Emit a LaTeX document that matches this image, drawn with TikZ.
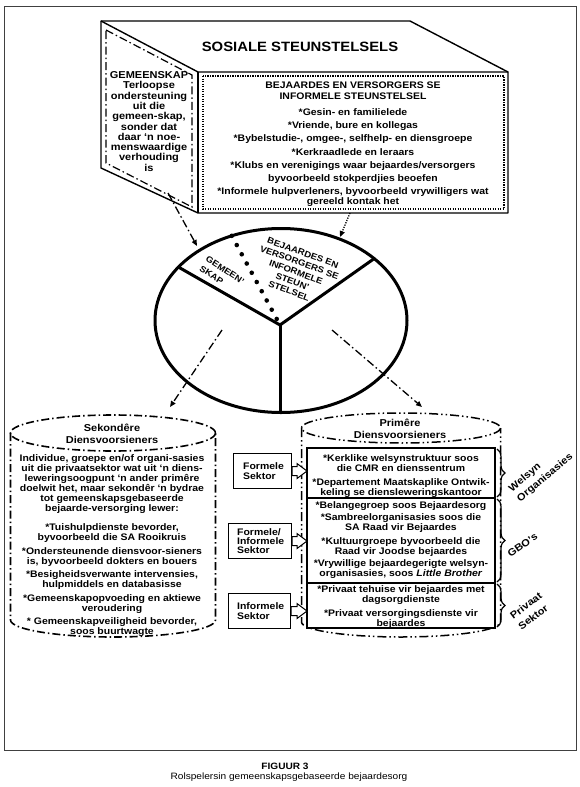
\documentclass[tikz,border=0pt]{standalone}
\usepackage{fontspec}
\setmainfont{Liberation Sans}[FakeStretch=1.1]
\usetikzlibrary{arrows.meta,decorations.pathreplacing,calc}
\newcommand{\fz}[2]{\fontsize{#1}{#2}\selectfont\bfseries\lineskiplimit=-20pt\relax}
\begin{document}
\begin{tikzpicture}[x=1pt,y=-1pt,
  outline/.style={line width=1.4pt, line join=round},
  dashdot/.style={line width=1.4pt, dash pattern=on 8pt off 3pt on 1.5pt off 3pt},
  dashdotdot/.style={line width=1.5pt, dash pattern=on 9pt off 3pt on 1.5pt off 3pt on 1.5pt off 3pt},
  dotline/.style={line width=1.3pt, dash pattern=on 1.2pt off 1.3pt},
  piestroke/.style={line width=3pt, line cap=round},
  bigdots/.style={line width=4.6pt, line cap=round, dash pattern=on 0pt off 10.5pt},
  arr/.style={-{Triangle[length=6pt,width=5pt]}},
  txt/.style={inner sep=0pt, align=center},
  smallbox/.style={draw, line width=1.1pt, minimum height=35pt, anchor=north west, inner sep=0pt},
  hollow/.style={line width=1pt, fill=white, line join=miter},
  bracestyle/.style={decorate, decoration={brace, amplitude=8pt}, line width=1.2pt}
]
\useasboundingbox (0,0) rectangle (580,787);
% outer frame
\draw[black!75, line width=0.8pt] (4.5,6.5) rectangle (576,750);

% ---------- 3D box ----------
\path (101,21) coordinate (bTL) (410,21) coordinate (bTR) (198,72) coordinate (fTL)
      (508,72) coordinate (fTR) (508,213) coordinate (fBR) (198,213) coordinate (fBL)
      (101,168) coordinate (bBL);
\draw[outline] (bTL) -- (bTR) -- (fTR) -- (fBR) -- (fBL) -- (bBL) -- cycle;
\draw[outline] (bTL) -- (fTL) -- (fTR);
\draw[outline] (fTL) -- (fBL);
\draw[dashdot, line width=1.2pt] (106,30) -- (192,75) -- (192,207) -- (106,163) -- cycle;
\draw[dotline] (203,76) rectangle (504,209);

\node[txt, font=\fz{13.5}{16}] (title) at (300,47) {SOSIALE STEUNSTELSELS};
\node[txt, font=\fz{9.5}{13.2}, anchor=north] (informal) at (353,81.6)
 {BEJAARDES EN VERSORGERS SE\\[-2.2pt]
  INFORMELE STEUNSTELSEL\\[2.8pt]
  *Gesin- en familielede\\
  *Vriende, bure en kollegas\\
  *Bybelstudie-, omgee-, selfhelp- en diensgroepe\\
  *Kerkraadlede en leraars\\
  *Klubs en verenigings waar bejaardes/versorgers\\
  byvoorbeeld stokperdjies beoefen\\
  *Informele hulpverleners, byvoorbeeld vrywilligers wat\\[-3.7pt]
  gereeld kontak het};
\node[txt, font=\fz{10}{10.3}, anchor=north] (gemeenskap) at (149,71.4)
 {GEMEENSKAP\\Terloopse\\ondersteuning\\uit die\\gemeen-skap,\\sonder dat\\daar ‘n noe-\\menswaardige\\verhouding\\is};

% ---------- pie ----------
\coordinate (pc) at (281,320.5);
\coordinate (pv) at (280,325);
\coordinate (pl) at ($(pc)+({126*cos(144.5)},{-92*sin(144.5)})$);
\coordinate (pr) at ($(pc)+({126*cos(42.3)},{-92*sin(42.3)})$);
\coordinate (pb) at (280,412.5);
\coordinate (pd) at ($(pc)+({126*cos(113)},{-92*sin(113)})$);

\node[txt, font=\fz{8.7}{10.2}, rotate=-20] (pieinf) at (296,272)
 {BEJAARDES EN\\VERSORGERS SE\\INFORMELE\\STEUN’\\STELSEL};
\node[txt, font=\fz{8.6}{11.5}, rotate=-33, align=left] (piegem) at (222,275) {GEMEEN’\\SKAP};

\draw[piestroke] (pc) ellipse [x radius=126, y radius=92];
\draw[piestroke] (pl) -- (pv) -- (pr);
\draw[piestroke] (pv) -- (pb);
\draw[bigdots] (pd) -- (pv);

% arrows from box to pie
\coordinate (a1s) at (168,193);
\coordinate (a1e) at (197,246);
\draw[dashdot, line width=1.3pt, arr] (a1s) -- (a1e);
\coordinate (a2s) at (350,213);
\coordinate (a2e) at (340,237);
\draw[dotline, arr] (a2s) -- (a2e);

% arrows from pie to cylinders
\coordinate (a3s) at (222,330);
\coordinate (a3e) at (170,407);
\coordinate (a4s) at (332,330);
\coordinate (a4e) at (422,407);
\draw[dashdot, line width=1.3pt, arr] (a3s) -- (a3e);
\draw[dashdot, line width=1.3pt, arr] (a4s) -- (a4e);

% ---------- left cylinder ----------
\draw[dashdot, line width=1.6pt] (113,433) ellipse [x radius=102.5, y radius=18];
\draw[dashdot, line width=1.6pt] (10.5,433) -- (10.5,620)
   arc[start angle=180, end angle=0, x radius=102.5, y radius=17] -- (215.5,433);
\node[txt, font=\fz{10}{12}] (sekt) at (112,433.7) {Sekondêre\\Diensvoorsieners};
\node[txt, font=\fz{9.5}{10}, anchor=north] (sekbody) at (112,454.6)
 {Individue, groepe en/of organi-sasies\\
  uit die privaatsektor wat uit ‘n diens-\\
  leweringsoogpunt ‘n ander primêre\\
  doelwit het, maar sekondêr ‘n bydrae\\
  tot gemeenskapsgebaseerde\\
  bejaarde-versorging lewer:\\[9pt]
  *Tuishulpdienste bevorder,\\
  byvoorbeeld die SA Rooikruis\\[3.5pt]
  *Ondersteunende diensvoor-sieners\\
  is, byvoorbeeld dokters en bouers\\[3pt]
  *Besigheidsverwante intervensies,\\
  hulpmiddels en databasisse\\[4pt]
  *Gemeenskapopvoeding en aktiewe\\
  veroudering\\[3pt]
  * Gemeenskapveiligheid bevorder,\\
  soos buurtwagte};

% ---------- right cylinder ----------
\draw[dashdotdot] (401,428) ellipse [x radius=99.5, y radius=15];
\draw[dashdotdot] (301.5,428) -- (301.5,622)
   arc[start angle=180, end angle=0, x radius=99.5, y radius=15] -- (500.5,428);
\node[txt, font=\fz{10}{12}] (prit) at (400,428.7) {Primêre\\Diensvoorsieners};

\path (307,448) coordinate (Rnw) (495,628) coordinate (Rse);
\draw[line width=1.2pt, fill=white] (Rnw) rectangle (Rse);
\draw[line width=1.2pt] (307,498) coordinate (d1) -- (495,498);
\draw[line width=1.2pt] (307,583) coordinate (d2) -- (495,583);

\node[txt, font=\fz{9.5}{10}, anchor=north] (w1) at (401,454.6)
 {*Kerklike welsynstruktuur soos\\
  die CMR en dienssentrum\\[4pt]
  *Departement Maatskaplike Ontwik-\\
  keling se diensleweringskantoor};
\node[txt, font=\fz{9.5}{10}, anchor=north] (w2) at (401,501.6)
 {*Belangegroep soos Bejaardesorg\\[2pt]
  *Sambreelorganisasies soos die\\
  SA Raad vir Bejaardes\\[4pt]
  *Kultuurgroepe byvoorbeeld die\\
  Raad vir Joodse bejaardes\\[2pt]
  *Vrywillige bejaardegerigte welsyn-\\
  organisasies, soos \textit{Little Brother}};
\node[txt, font=\fz{9.5}{10}, anchor=north] (w3) at (401,585.6)
 {*Privaat tehuise vir bejaardes met\\
  dagsorgdienste\\[4pt]
  *Privaat versorgingsdienste vir\\
  bejaardes};

% braces
\draw[bracestyle] (497,449) -- (497,497);
\draw[bracestyle] (497,499) -- (497,582);
\draw[bracestyle] (497,584) -- (497,627);
\node[txt, font=\fz{10}{13}, align=left, rotate=40] (lw) at (541,473) {Welsyn\\Organisasies};
\node[txt, font=\fz{10}{13}, rotate=35] (lg) at (522.5,545) {GBO’s};
\node[txt, font=\fz{10}{13.5}, align=left, rotate=37] (lp) at (530,611) {Privaat\\Sektor};

% ---------- sector boxes ----------
\node[smallbox, minimum width=58pt] (b1) at (233,453) {};
\node[smallbox, minimum width=63pt] (b2) at (228,523) {};
\node[smallbox, minimum width=62pt] (b3) at (228,593) {};
\node[txt, align=left, font=\fz{9.5}{9.2}, anchor=west] (b1t) at ($(b1.west)+(10,0)$) {Formele\\Sektor};
\node[txt, align=left, font=\fz{9.5}{9.2}, anchor=west] (b2t) at ($(b2.west)+(9,0)$) {Formele/\\Informele\\Sektor};
\node[txt, align=left, font=\fz{9.5}{9.2}, anchor=west] (b3t) at ($(b3.west)+(9,0)$) {Informele\\Sektor};

\foreach \b in {b1,b2,b3}{
  \draw[hollow] ($(\b.east)+(0,-4.5)$) -- ($(\b.east -| Rnw)+(-10,-4.5)$) -- ++(0,-3)
     -- (\b.east -| Rnw) -- ++(-10,7.5) -- ++(0,-3) -- ($(\b.east)+(0,4.5)$) -- cycle;
}

% ---------- caption ----------
\node[txt, font=\fz{9.2}{10}] (fig) at (285,766) {FIGUUR 3};
\node[txt, font=\fontsize{9.2}{10}\selectfont] (cap) at (289,777.5) {Rolspelersin gemeenskapsgebaseerde bejaardesorg};
\end{tikzpicture}
\end{document}
